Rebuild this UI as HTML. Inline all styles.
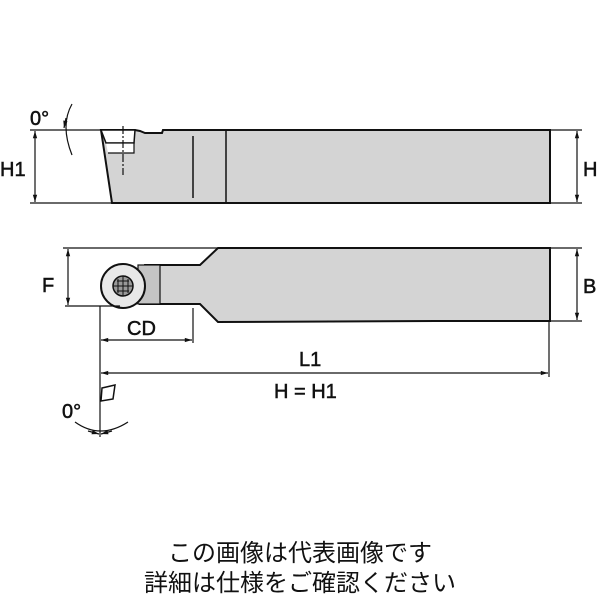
<!DOCTYPE html>
<html><head><meta charset="utf-8"><style>
html,body{margin:0;padding:0;background:#fff}
svg{display:block}
text{font-family:"Liberation Sans",Arial,sans-serif;fill:#111}
.lb text{stroke:#111;stroke-width:0.5}
.jp{font-family:"Liberation Sans","Noto Sans CJK JP",sans-serif;font-size:24px}
</style></head><body>
<svg width="600" height="600" viewBox="0 0 600 600" xmlns="http://www.w3.org/2000/svg">
<defs>
<marker id="a" viewBox="0 0 10 10" refX="10" refY="5" markerWidth="8" markerHeight="6" orient="auto-start-reverse"><path d="M0,2 L10,5 L0,8z" fill="#111"/></marker>
</defs>
<g stroke="#111" fill="none" stroke-width="1.2">
<!-- top view -->
<path d="M101,130 L135,130 L140,131 L145,133 L162,133 L163,130 L550,130 L550,203 L112,203 Z" fill="#d4d4d4" stroke-width="2"/>
<path d="M101,130 L135,130 L134,143 L106,143 Z" fill="#fff" stroke-width="1.5"/>
<path d="M106,143 L134,143 L134,153 L108,153" fill="#fff"/>
<line x1="123" y1="126" x2="123" y2="175" stroke-dasharray="8,2,2,2"/>
<line x1="193" y1="136" x2="193" y2="198" stroke-width="1.5"/>
<line x1="226" y1="131" x2="226" y2="202" stroke-width="1.5"/>
<line x1="30" y1="130" x2="101" y2="130"/>
<line x1="30" y1="203" x2="112" y2="203"/>
<line x1="35" y1="131" x2="35" y2="202" marker-start="url(#a)" marker-end="url(#a)"/>
<line x1="550" y1="130" x2="582" y2="130"/>
<line x1="550" y1="203" x2="582" y2="203"/>
<line x1="577" y1="131" x2="577" y2="202" marker-start="url(#a)" marker-end="url(#a)"/>
<path d="M72,104 Q60,125 72,155"/>
<line x1="66" y1="118" x2="64" y2="128" marker-end="url(#a)"/>
<!-- bottom view -->
<path d="M145,265 L200,265 L218,248 L550,248 L550,321 L435,321 L218,322 L200,304 L140,304 Z" fill="#d4d4d4" stroke-width="2"/>
<rect x="138" y="265" width="22" height="39" fill="#c4c4c4" stroke-width="1.2"/>
<circle cx="123" cy="286" r="22" fill="#e8e8e8" stroke-width="2"/>
<circle cx="123" cy="286" r="10" fill="#999" stroke-width="1.5"/>
<path d="M113,286 H133 M123,276 V296 M117,281 H129 M117,291 H129 M118,279 V293 M128,279 V293" stroke-width="1"/>
<line x1="63" y1="248" x2="218" y2="248"/>
<line x1="65" y1="306" x2="120" y2="306"/>
<line x1="68" y1="249" x2="68" y2="305" marker-start="url(#a)" marker-end="url(#a)"/>
<line x1="550" y1="248" x2="582" y2="248"/>
<line x1="550" y1="321" x2="582" y2="321"/>
<line x1="577" y1="249" x2="577" y2="320" marker-start="url(#a)" marker-end="url(#a)"/>
<line x1="100" y1="306" x2="100" y2="437"/>
<line x1="193" y1="308" x2="193" y2="343"/>
<line x1="101" y1="340" x2="192" y2="340" marker-start="url(#a)" marker-end="url(#a)"/>
<line x1="549" y1="321" x2="549" y2="377"/>
<line x1="101" y1="373" x2="548" y2="373" marker-start="url(#a)" marker-end="url(#a)"/>
<path d="M102,388 L115,385 L113,399 L101,401 Z" stroke-width="1.5"/>
<path d="M75,422 Q100,440 128,422"/>
<line x1="88" y1="431" x2="99" y2="434" marker-end="url(#a)"/>
<line x1="112" y1="431" x2="101" y2="434" marker-end="url(#a)"/>
</g>
<g font-size="20" class="lb">
<text x="30" y="125">0°</text>
<text x="0" y="176">H1</text>
<text x="583" y="176">H</text>
<text x="42" y="292">F</text>
<text x="583" y="293">B</text>
<text x="127" y="335">CD</text>
<text x="299" y="366">L1</text>
<text x="274" y="398">H = H1</text>
<text x="62" y="418">0°</text>
</g>
<text class="jp" x="300" y="561" text-anchor="middle">この画像は代表画像です</text>
<text class="jp" x="300" y="591" text-anchor="middle">詳細は仕様をご確認ください</text>
</svg>
</body></html>
